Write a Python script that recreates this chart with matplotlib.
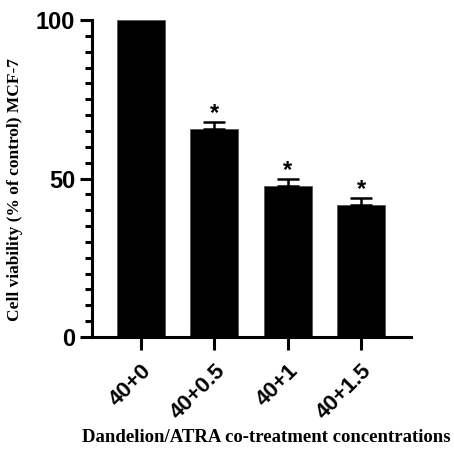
import matplotlib
matplotlib.use("Agg")
import matplotlib.pyplot as plt

categories = ["40+0", "40+0.5", "40+1", "40+1.5"]
values = [100, 65.6, 47.7, 41.7]
errors = [0, 2.2, 2.0, 2.1]
signif = ["", "*", "*", "*"]

fig = plt.figure(figsize=(4.54, 4.53), dpi=100)
ax = fig.add_axes([92/454, 1-337/453, (411-92)/454, (337-20)/453])

x = list(range(len(categories)))
ax.bar(x, values, width=0.655, color="black", edgecolor="#555555", linewidth=0.6)
for xi, v, e in zip(x, values, errors):
    if e > 0:
        ax.errorbar(xi, v, yerr=[[0], [e]], fmt="none", ecolor="black",
                    elinewidth=1.8, capsize=8, capthick=1.8)
for xi, v, e, s in zip(x, values, errors, signif):
    if s:
        ax.text(xi, v + e - 0.8, s, ha="center", va="bottom",
                fontsize=17, fontweight="bold", family="Liberation Sans")

ax.set_xlim(-0.67, 3.68)
ax.set_ylim(0, 100)
ax.set_yticks([0, 50, 100])
ax.set_yticks(range(0, 101, 5), minor=True)
ax.set_xticks(x)
ax.set_xticklabels(categories, rotation=45, ha="right", va="top",
                   rotation_mode="anchor", fontsize=16, fontweight="bold",
                   family="Liberation Sans")
for lab in ax.get_yticklabels():
    lab.set_fontsize(17)
    lab.set_fontweight("bold")
    lab.set_family("Liberation Sans")

for side in ["top", "right"]:
    ax.spines[side].set_visible(False)
for side in ["left", "bottom"]:
    ax.spines[side].set_linewidth(2.2)
ax.tick_params(axis="y", which="major", length=9, width=2.2, pad=3)
ax.tick_params(axis="y", which="minor", length=5, width=2.2)
ax.tick_params(axis="x", which="major", length=9.5, width=2.2, pad=7)

fig.text(15/454, 1-190/453, "Cell viability (% of control) MCF-7",
         rotation=90, ha="center", va="center", fontsize=12.5,
         fontweight="bold", family="Liberation Serif")
fig.text(266/454, 1-437/453, "Dandelion/ATRA co-treatment concentrations",
         ha="center", va="center", fontsize=13.5, fontweight="bold",
         family="Liberation Serif")

fig.savefig("out.png", dpi=100)
